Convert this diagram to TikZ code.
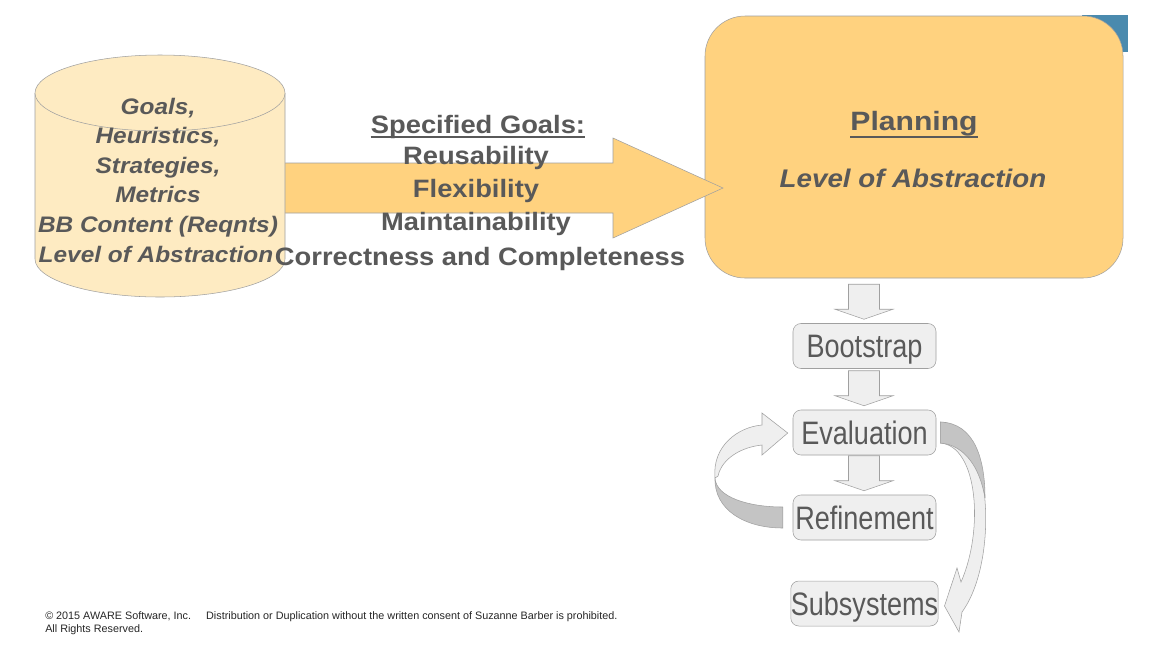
\documentclass[tikz,border=0pt]{standalone}
\usepackage{fontspec}
\setmainfont{Liberation Sans}
\usepackage{graphicx}
\usetikzlibrary{calc}
\definecolor{tgray}{HTML}{595959}
\definecolor{edgec}{HTML}{A0A0A0}
\definecolor{gold}{HTML}{FFD27F}
\definecolor{cylc}{HTML}{FEEBC2}
\definecolor{lgray}{HTML}{EFEFEF}
\definecolor{dgray}{HTML}{C4C4C4}
\definecolor{blueA}{HTML}{4A8AAE}
\begin{document}
\begin{tikzpicture}[x=0.75pt,y=-0.75pt,
  cyltxt/.style={text=tgray, inner sep=0pt, anchor=base, font=\fontsize{18.3}{22}\selectfont\bfseries\itshape},
  goaltxt/.style={text=tgray, inner sep=0pt, anchor=base, font=\fontsize{20.5}{24}\selectfont\bfseries},
  plantxt/.style={text=tgray, inner sep=0pt, anchor=base, font=\fontsize{22.6}{26}\selectfont\bfseries},
  abstxt/.style={text=tgray, inner sep=0pt, anchor=base, font=\fontsize{20.8}{24}\selectfont\bfseries\itshape},
  stepbox/.style={draw=edgec, fill=lgray, rounded corners=6pt, minimum width=107.25pt, minimum height=33.75pt,
     inner sep=0pt, text=tgray, font=\fontsize{20.3}{24}\selectfont, text height=17.4pt, text depth=0pt},
  foot/.style={text=black!85, inner sep=0pt, anchor=base west, font=\fontsize{8.1}{10}\selectfont},
  uline/.style={draw=tgray, line width=1.5pt},
  downarr/.pic={\draw[draw=edgec, fill=lgray] (-15.5,-35) -- (15.5,-35) -- (15.5,-10) -- (29,-10) -- (0,0) -- (-29,-10) -- (-15.5,-10) -- cycle;}
]
\useasboundingbox (0,0) rectangle (1162,662);
\fill[white] (0,0) rectangle (1162,662);

% blue corner behind planning box
\fill[blueA] (1082,15) rectangle (1128,52);

% planning box
\node[draw=edgec, fill=gold, rounded corners=30pt, minimum width=313.5pt, minimum height=196.5pt] (plan) at (914,147) {};

% big arrow
\draw[draw=edgec, fill=gold] (283,163) -- (613,163) -- (613,138) -- (723,188) -- (613,238) -- (613,213) -- (283,213) -- cycle;

% cylinder
\fill[cylc] (35,93) -- (35,259) arc[start angle=180, end angle=0, x radius=125, y radius=38] -- (285,93) -- cycle;
\draw[edgec] (35,93) -- (35,259) arc[start angle=180, end angle=0, x radius=125, y radius=38] -- (285,93);
\draw[edgec, fill=cylc] (160,93) ellipse [x radius=125, y radius=38];
\coordinate (db) at (160,176);

% cylinder text
\node[cyltxt] (c1) at (158,114.3) {\scalebox{1}[0.92]{Goals,}};
\node[cyltxt] (c2) at (158,143.8) {\scalebox{1}[0.92]{Heuristics,}};
\node[cyltxt] (c3) at (158,173.3) {\scalebox{1}[0.92]{Strategies,}};
\node[cyltxt] (c4) at (158,202.8) {\scalebox{1}[0.92]{Metrics}};
\node[cyltxt] (c5) at (158,232.3) {\scalebox{1}[0.92]{BB Content (Reqnts)}};
\node[cyltxt] (c6) at (156,262.5) {\scalebox{1}[0.92]{Level of Abstraction}};

% goals text
\node[goaltxt] (g0) at (478,133.5) {\scalebox{1}[0.92]{Specified Goals:}};
\draw[uline] ($(g0.base west)+(0,3.5)$) -- ($(g0.base east)+(0,3.5)$);
\node[goaltxt] (g1) at (476,164) {\scalebox{1}[0.92]{Reusability}};
\node[goaltxt] (g2) at (476,197.3) {\scalebox{1}[0.92]{Flexibility}};
\node[goaltxt] (g3) at (476,230.7) {\scalebox{1}[0.92]{Maintainability}};
\node[goaltxt] (g4) at (480,265) {\scalebox{1}[0.92]{Correctness and Completeness}};

% planning text
\node[plantxt] (p0) at (914,130.7) {\scalebox{1}[0.88]{Planning}};
\draw[uline] ($(p0.base west)+(0,6.5)$) -- ($(p0.base east)+(0,6.5)$);
\node[abstxt] (p1) at (913,187) {\scalebox{1}[0.92]{Level of Abstraction}};

% step boxes
\node[stepbox] (boot) at (864.5,346) {\scalebox{1}[1.2]{Bootstrap}};
\node[stepbox] (eval) at (864.5,432.5) {\scalebox{1}[1.2]{Evaluation}};
\node[stepbox] (refi) at (864.5,517.5) {\scalebox{1}[1.2]{Refinement}};
\node[stepbox] (subs) at (864.5,603.5) {\scalebox{1}[1.2]{Subsystems}};

% down block arrows
\pic (a1) at ($(boot.north)+(-0.5,-4)$) {downarr};
\pic (a2) at ($(eval.north)+(-0.5,-4)$) {downarr};
\pic (a3) at ($(refi.north)+(-0.5,-4)$) {downarr};

% left loop arrow (refinement -> evaluation)
\draw[draw=edgec, fill=lgray] (715,478) .. controls (712,446) and (738,427) .. (762,425) -- (762,413) -- ($(eval.west)+(-5,0.5)$) -- (762,455) -- (762,445) .. controls (742,447) and (722,458) .. (718,476) -- cycle;
\draw[draw=edgec, fill=dgray] (715,478) .. controls (716,497) and (748,507) .. ($(refi.west)+(-10,-10.5)$) -- ($(refi.west)+(-10,10.5)$) .. controls (745,528) and (714,510) .. (715,478) -- cycle;

% right arrow (evaluation -> subsystems)
\draw[draw=edgec, fill=lgray] ($(eval.east)+(4,-10.5)$) .. controls (992,424) and (1000,560) .. (962,612) -- (959,632) -- ($(subs.east)+(6,2.5)$) -- (957,568) -- (961,582) .. controls (984,530) and (978,446) .. ($(eval.east)+(4,10.5)$) -- cycle;
\draw[draw=edgec, fill=dgray] ($(eval.east)+(4,-10.5)$) .. controls (975,423) and (985,460) .. (985,498) .. controls (980,468) and (965,445) .. ($(eval.east)+(4,10.5)$) -- cycle;

% footer
\node[foot] (f1) at (45,619) {\textcopyright{} 2015 AWARE Software, Inc.\hspace{1.4em}Distribution or Duplication without the written consent of Suzanne Barber is prohibited.};
\node[foot] (f2) at (45,632) {All Rights Reserved.};
\end{tikzpicture}
\end{document}
